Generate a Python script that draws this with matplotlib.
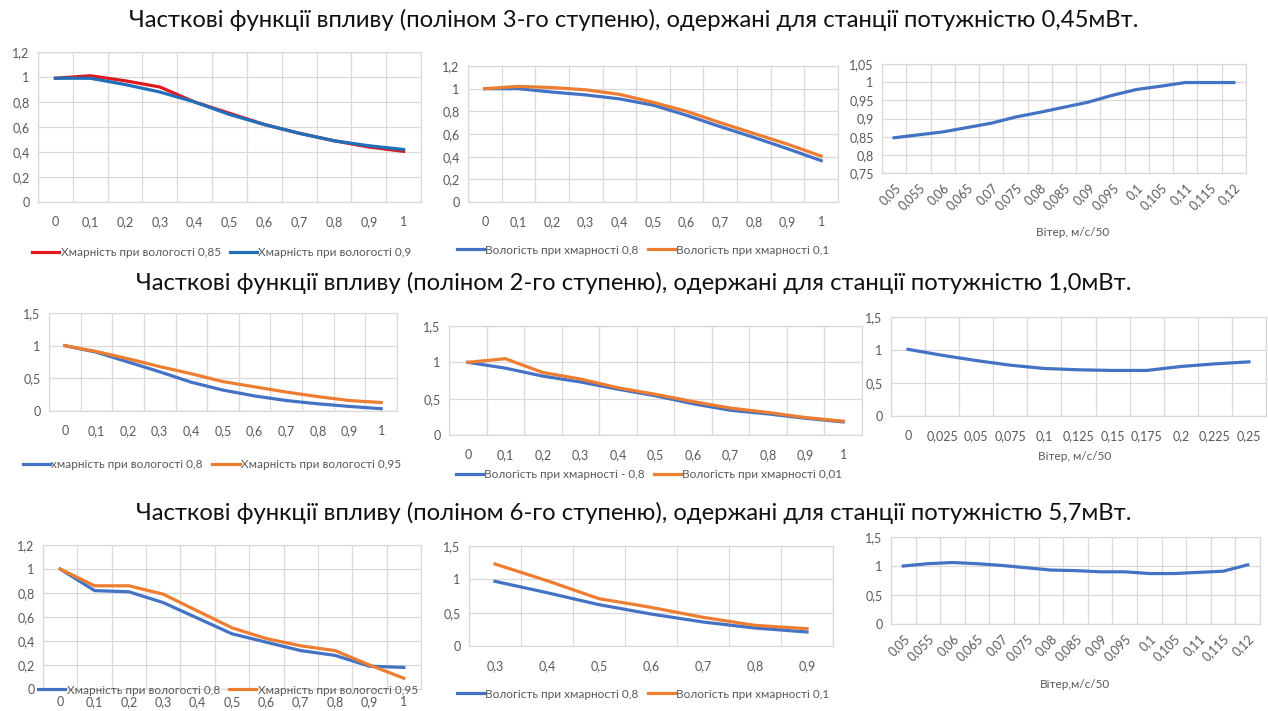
import numpy as np
import matplotlib
matplotlib.use("Agg")
import matplotlib.pyplot as plt
from matplotlib.ticker import FuncFormatter

plt.rcParams['font.family'] = ['Lato', 'DejaVu Sans']

BLUE = "#4472c4"
ORANGE = "#ed7d31"
RED = "#e0191e"
BLUE2 = "#1f70b8"
GRID = "#d9d9d9"
TXT = "#595959"

titles = [
    "Часткові функції впливу (поліном 3-го ступеню), одержані для станції потужністю 0,45мВт.",
    "Часткові функції впливу (поліном 2-го ступеню), одержані для станції потужністю 1,0мВт.",
    "Часткові функції впливу (поліном 6-го ступеню), одержані для станції потужністю 5,7мВт.",
]

cat_01 = ["0", "0,1", "0,2", "0,3", "0,4", "0,5", "0,6", "0,7", "0,8", "0,9", "1"]
cat_wind1 = ["0,05", "0,055", "0,06", "0,065", "0,07", "0,075", "0,08", "0,085",
             "0,09", "0,095", "0,1", "0,105", "0,11", "0,115", "0,12"]
cat_wind2 = ["0", "0,025", "0,05", "0,075", "0,1", "0,125", "0,15", "0,175",
             "0,2", "0,225", "0,25"]
cat_hum3 = ["0,3", "0,4", "0,5", "0,6", "0,7", "0,8", "0,9"]

# row 1 (0,45 MW)
r1_cloud_h085 = [0.99, 1.01, 0.97, 0.92, 0.80, 0.71, 0.62, 0.55, 0.49, 0.44, 0.405]
r1_cloud_h09 = [0.99, 0.99, 0.94, 0.88, 0.80, 0.70, 0.62, 0.55, 0.49, 0.45, 0.42]
r1_hum_c08 = [1.0, 1.0, 0.97, 0.945, 0.91, 0.855, 0.765, 0.665, 0.57, 0.47, 0.365]
r1_hum_c01 = [1.0, 1.02, 1.01, 0.99, 0.95, 0.88, 0.80, 0.70, 0.605, 0.51, 0.405]
r1_wind = [0.847, 0.855, 0.863, 0.875, 0.887, 0.904, 0.917, 0.931, 0.945, 0.964,
           0.98, 0.989, 0.999, 0.999, 0.999]

# row 2 (1,0 MW)
r2_cloud_h08 = [1.0, 0.90, 0.75, 0.60, 0.44, 0.32, 0.23, 0.16, 0.11, 0.07, 0.035]
r2_cloud_h095 = [1.0, 0.91, 0.80, 0.68, 0.57, 0.45, 0.37, 0.29, 0.22, 0.16, 0.13]
r2_hum_c08 = [1.0, 0.92, 0.81, 0.73, 0.63, 0.54, 0.43, 0.34, 0.29, 0.23, 0.18]
r2_hum_c001 = [1.0, 1.05, 0.86, 0.77, 0.65, 0.56, 0.46, 0.37, 0.31, 0.24, 0.19]
r2_wind = [1.01, 0.92, 0.84, 0.77, 0.72, 0.70, 0.69, 0.69, 0.75, 0.79, 0.82]

# row 3 (5,7 MW)
r3_cloud_h08 = [1.0, 0.82, 0.81, 0.72, 0.59, 0.46, 0.39, 0.32, 0.28, 0.19, 0.18]
r3_cloud_h095 = [1.0, 0.86, 0.86, 0.79, 0.65, 0.51, 0.42, 0.36, 0.32, 0.20, 0.09]
r3_hum_c08 = [0.97, 0.80, 0.62, 0.48, 0.36, 0.27, 0.21]
r3_hum_c01 = [1.23, 0.98, 0.71, 0.58, 0.43, 0.31, 0.26]
r3_wind = [1.0, 1.04, 1.06, 1.04, 1.01, 0.97, 0.93, 0.92, 0.90, 0.90, 0.87,
           0.87, 0.89, 0.91, 1.02]

W, H = 1268, 711
fig = plt.figure(figsize=(W / 100, H / 100), dpi=100)


def fx(px):
    return px / W


def fy(py):
    return 1 - py / H


def make_ax(left, top, right, bottom):
    return fig.add_axes([fx(left), fy(bottom), fx(right - left), (bottom - top) / H])


comma = FuncFormatter(lambda v, p: ("%g" % round(v, 3)).replace(".", ","))


def cat_axes(ax, cats, yticks, rot=0):
    n = len(cats)
    ax.set_xlim(-0.5, n - 0.5)
    ax.set_xticks(np.arange(n))
    ax.set_xticks(np.arange(-0.5, n, 1), minor=True)
    if rot:
        ax.set_xticklabels(cats, rotation=45, ha="right", rotation_mode="anchor")
    else:
        ax.set_xticklabels(cats)
    ax.set_yticks(yticks)
    ax.set_ylim(yticks[0], yticks[-1])
    ax.yaxis.set_major_formatter(comma)
    ax.grid(True, which="minor", axis="x", color=GRID, lw=0.9)
    ax.grid(True, which="major", axis="y", color=GRID, lw=0.9)
    ax.tick_params(which="both", length=0, labelsize=9, labelcolor=TXT)
    ax.tick_params(axis="x", pad=10 if not rot else 6)
    ax.tick_params(axis="y", pad=6)
    for s in ax.spines.values():
        s.set_color(GRID)
        s.set_linewidth(0.9)
    ax.set_axisbelow(True)


def leg(ax, cx, cy):
    ax.legend(loc="center", bbox_to_anchor=(fx(cx), fy(cy)), bbox_transform=fig.transFigure,
              ncol=2, frameon=False, fontsize=8.5, labelcolor=TXT, handlelength=2.3,
              handletextpad=0.1, columnspacing=0.8, borderpad=0)


lw = 2.3

# titles
fig.text(0.5, fy(20), titles[0], ha="center", va="center", fontsize=17.2, color="#111111")
fig.text(0.5, fy(283), titles[1], ha="center", va="center", fontsize=17.2, color="#111111")
fig.text(0.5, fy(513), titles[2], ha="center", va="center", fontsize=17.2, color="#111111")

# ---- row 1
ax = make_ax(38, 52, 421, 202)
cat_axes(ax, cat_01, [0, 0.2, 0.4, 0.6, 0.8, 1.0, 1.2])
x = np.arange(len(cat_01))
ax.plot(x, r1_cloud_h085, color=RED, lw=lw, label="Хмарність при вологості 0,85")
ax.plot(x, r1_cloud_h09, color=BLUE2, lw=lw, label="Хмарність при вологості 0,9")
leg(ax, 222, 253)

ax = make_ax(468, 66, 838, 202)
cat_axes(ax, cat_01, [0, 0.2, 0.4, 0.6, 0.8, 1.0, 1.2])
ax.plot(x, r1_hum_c08, color=BLUE, lw=lw, label="Вологість при хмарності 0,8")
ax.plot(x, r1_hum_c01, color=ORANGE, lw=lw, label="Вологість при хмарності 0,1")
leg(ax, 643, 250)

ax = make_ax(882, 64, 1246, 173)
cat_axes(ax, cat_wind1, [0.75, 0.8, 0.85, 0.9, 0.95, 1.0, 1.05], rot=45)
ax.plot(np.arange(len(cat_wind1)), r1_wind, color=BLUE, lw=lw)
fig.text(fx(1073), fy(233), "Вітер, м/с/50", ha="center", va="center", fontsize=8.5, color=TXT)

# ---- row 2
ax = make_ax(49, 313, 397, 411)
cat_axes(ax, cat_01, [0, 0.5, 1.0, 1.5])
ax.plot(x, r2_cloud_h08, color=BLUE, lw=lw, label="хмарність при вологості 0,8")
ax.plot(x, r2_cloud_h095, color=ORANGE, lw=lw, label="Хмарність при вологості 0,95")
leg(ax, 212, 465)

ax = make_ax(449, 326, 862, 435)
cat_axes(ax, cat_01, [0, 0.5, 1.0, 1.5])
ax.plot(x, r2_hum_c08, color=BLUE, lw=lw, label="Вологість при хмарності - 0,8")
ax.plot(x, r2_hum_c001, color=ORANGE, lw=lw, label="Вологість при хмарності 0,01")
leg(ax, 649, 475)

ax = make_ax(891, 317, 1266, 416)
cat_axes(ax, cat_wind2, [0, 0.5, 1.0, 1.5])
ax.plot(np.arange(len(cat_wind2)), r2_wind, color=BLUE, lw=lw)
fig.text(fx(1075), fy(457), "Вітер, м/с/50", ha="center", va="center", fontsize=8.5, color=TXT)

# ---- row 3
ax = make_ax(43, 545, 421, 689)
cat_axes(ax, cat_01, [0, 0.2, 0.4, 0.6, 0.8, 1.0, 1.2])
ax.tick_params(axis="x", pad=5)
ax.plot(x, r3_cloud_h08, color=BLUE, lw=lw, label="Хмарність при вологості 0,8")
ax.plot(x, r3_cloud_h095, color=ORANGE, lw=lw, label="Хмарність при вологості 0,95")
leg(ax, 228, 690)

ax = make_ax(469, 546, 833, 646)
cat_axes(ax, cat_hum3, [0, 0.5, 1.0, 1.5])
ax.plot(np.arange(len(cat_hum3)), r3_hum_c08, color=BLUE, lw=lw, label="Вологість при хмарності 0,8")
ax.plot(np.arange(len(cat_hum3)), r3_hum_c01, color=ORANGE, lw=lw, label="Вологість при хмарності 0,1")
leg(ax, 643, 694)

ax = make_ax(891, 537, 1260, 624)
cat_axes(ax, cat_wind1, [0, 0.5, 1.0, 1.5], rot=45)
ax.plot(np.arange(len(cat_wind1)), r3_wind, color=BLUE, lw=lw)
fig.text(fx(1075), fy(685), "Вітер,м/с/50", ha="center", va="center", fontsize=8.5, color=TXT)

fig.savefig("out.png", dpi=100)
